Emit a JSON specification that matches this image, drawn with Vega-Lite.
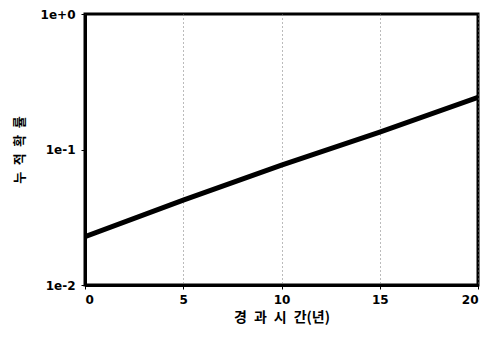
{
  "$schema": "https://vega.github.io/schema/vega-lite/v6.json",
  "autosize": "none",
  "width": 393,
  "height": 271,
  "padding": {"left": 85, "top": 14, "right": 16, "bottom": 55},
  "background": "white",
  "config": {
    "view": {"stroke": "black", "strokeWidth": 3},
    "axis": {
      "labelFont": "DejaVu Sans",
      "labelFontWeight": "bold",
      "labelFontSize": 12,
      "labelColor": "black",
      "titleFont": "Noto Sans CJK KR",
      "titleFontWeight": "bold",
      "titleFontSize": 13,
      "titleColor": "black",
      "domainColor": "black",
      "tickColor": "black",
      "tickSize": 4
    }
  },
  "data": {
    "values": [
      {"t": 0, "p": 0.0227},
      {"t": 5, "p": 0.0423},
      {"t": 10, "p": 0.0766},
      {"t": 15, "p": 0.1346},
      {"t": 20, "p": 0.243}
    ]
  },
  "mark": {"type": "line", "color": "black", "strokeWidth": 5, "clip": true},
  "encoding": {
    "x": {
      "field": "t",
      "type": "quantitative",
      "scale": {"domain": [0, 20], "nice": false},
      "axis": {
        "values": [0, 5, 10, 15, 20],
        "grid": true,
        "gridColor": "#777777",
        "gridDash": [1, 3],
        "gridWidth": 1,
        "domainWidth": 3,
        "labelPadding": 5,
        "title": "경\u2002과\u2002시\u2002간(년)",
        "titleFontSize": 14,
        "titlePadding": 5
      }
    },
    "y": {
      "field": "p",
      "type": "quantitative",
      "scale": {"type": "log", "domain": [0.01, 1], "nice": false},
      "axis": {
        "values": [0.01, 0.1, 1],
        "labelExpr": "datum.value >= 1 ? '1e+0' : (datum.value >= 0.1 ? '1e-1' : '1e-2')",
        "grid": false,
        "domainWidth": 3,
        "labelPadding": 6,
        "title": "누\u2002적\u2002확\u2002률",
        "titlePadding": 14
      }
    }
  }
}
